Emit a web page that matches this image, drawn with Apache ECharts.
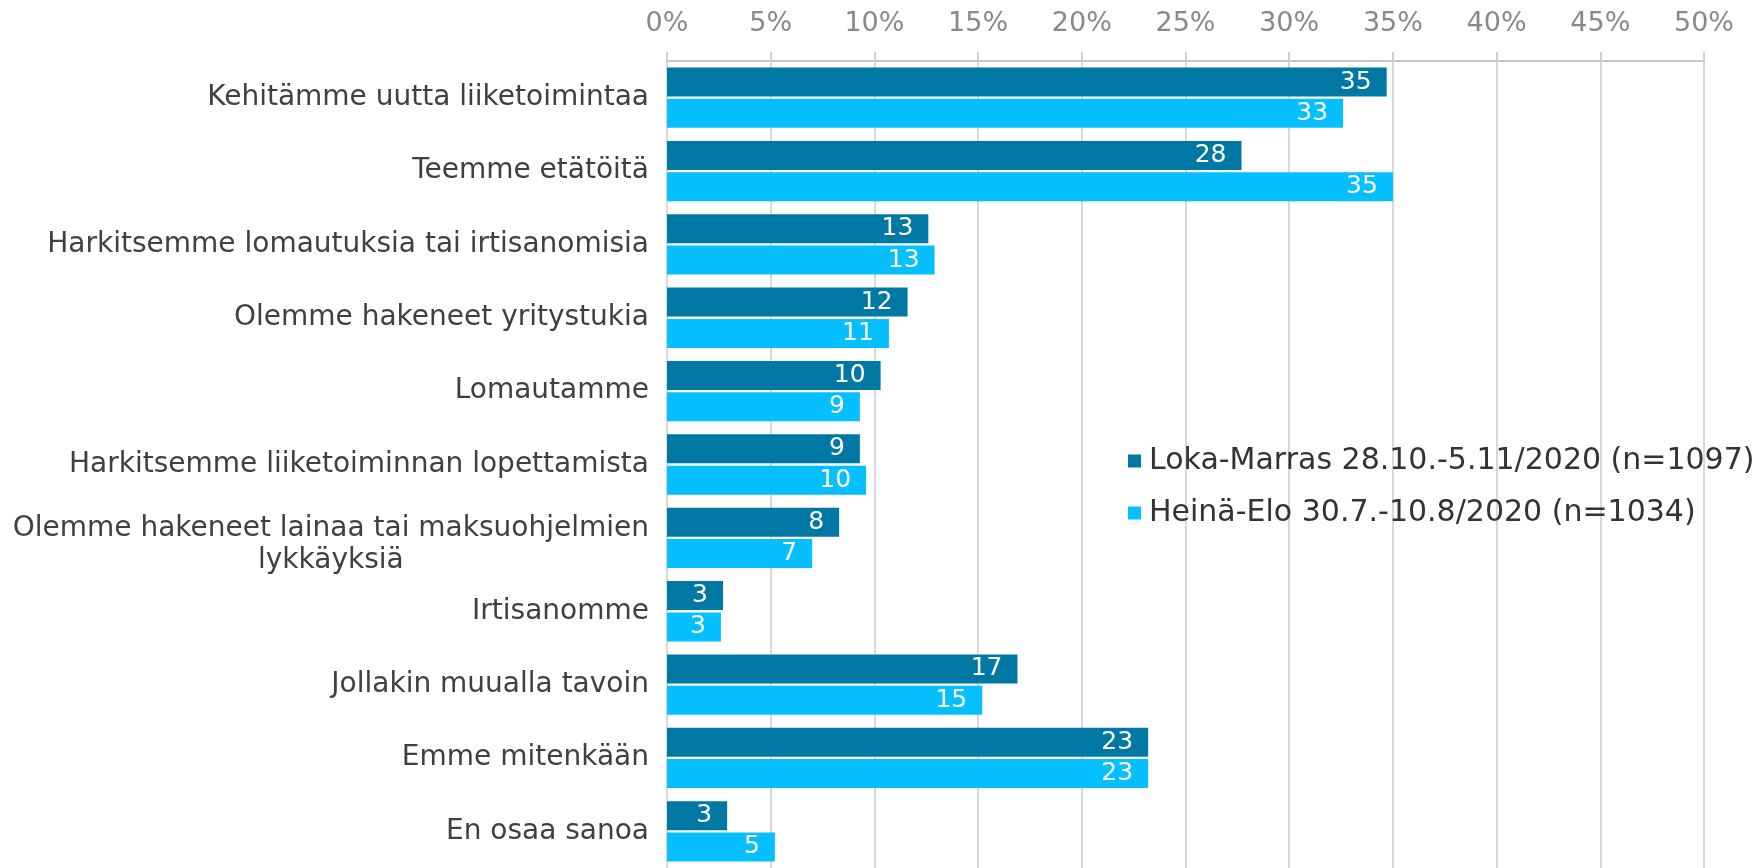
<!DOCTYPE html>
<html>
<head>
<meta charset="utf-8">
<script src="https://cdn.jsdelivr.net/npm/echarts@6/dist/echarts.min.js"></script>
<style>
html,body{margin:0;padding:0;background:#fff;}
#chart{width:1764px;height:868px;}
</style>
</head>
<body>
<div id="chart"></div>
<script>
var categories = [
  'Kehitämme uutta liiketoimintaa',
  'Teemme etätöitä',
  'Harkitsemme lomautuksia tai irtisanomisia',
  'Olemme hakeneet yritystukia',
  'Lomautamme',
  'Harkitsemme liiketoiminnan lopettamista',
  'Olemme hakeneet lainaa tai maksuohjelmien\nlykkäyksiä',
  'Irtisanomme',
  'Jollakin muualla tavoin',
  'Emme mitenkään',
  'En osaa sanoa'
];
var seriesNames = [
  'Loka-Marras 28.10.-5.11/2020 (n=1097)',
  'Heinä-Elo 30.7.-10.8/2020 (n=1034)'
];
var lokaMarras = [34.7, 27.7, 12.6, 11.6, 10.3, 9.3, 8.3, 2.7, 16.9, 23.2, 2.9];
var heinaElo   = [32.6, 35.0, 12.9, 10.7, 9.3, 9.6, 7.0, 2.6, 15.2, 23.2, 5.2];
var xTicks = { min: 0, max: 50, interval: 5 };

var FONT = 'DejaVu Sans';
var chart = echarts.init(document.getElementById('chart'), null, {renderer: 'canvas'});

function yLabel(v) {
  var parts = v.split('\n');
  if (parts.length === 1) return v;
  return '{l1|' + parts[0] + '}\n{l2|' + parts[1] + '}';
}

var labelCfg = {
  show: true,
  position: 'insideRight',
  distance: 15,
  color: '#ffffff',
  fontFamily: FONT,
  fontSize: 25,
  formatter: function (p) { return Math.round(p.value); }
};

chart.setOption({
  animation: false,
  backgroundColor: '#ffffff',
  textStyle: { fontFamily: FONT },
  grid: { left: 667, right: 60, top: 61, bottom: -6, containLabel: false },
  legend: {
    orient: 'vertical',
    left: 1128,
    top: 445,
    padding: 0,
    itemWidth: 13,
    itemHeight: 13,
    itemGap: 20,
    icon: 'rect',
    data: seriesNames,
    textStyle: { fontFamily: FONT, fontSize: 30, color: '#333333', lineHeight: 32, padding: [0, 0, 0, 3] }
  },
  xAxis: {
    type: 'value',
    position: 'top',
    min: xTicks.min,
    max: xTicks.max,
    interval: xTicks.interval,
    axisLine: { show: true, lineStyle: { color: '#c8c8c8', width: 2 } },
    axisTick: { show: true, inside: false, length: 9, lineStyle: { color: '#d0d0d0', width: 2 } },
    splitLine: { show: true, lineStyle: { color: '#d9d9d9', width: 2 } },
    axisLabel: {
      formatter: '{value}%',
      color: '#898989',
      fontFamily: FONT,
      fontSize: 27,
      margin: 24
    }
  },
  yAxis: {
    type: 'category',
    inverse: true,
    data: categories,
    axisLine: { show: false },
    axisTick: { show: false },
    splitLine: { show: false },
    axisLabel: {
      margin: 18,
      color: '#404040',
      fontFamily: FONT,
      fontSize: 28,
      formatter: yLabel,
      rich: {
        l1: { fontFamily: FONT, fontSize: 28, color: '#404040', lineHeight: 46, align: 'right' },
        l2: { fontFamily: FONT, fontSize: 28, color: '#404040', lineHeight: 18, align: 'center' }
      }
    }
  },
  series: [
    {
      name: seriesNames[0],
      type: 'bar',
      data: lokaMarras,
      barWidth: 29,
      barGap: '8%',
      itemStyle: { color: '#0078a4' },
      label: labelCfg
    },
    {
      name: seriesNames[1],
      type: 'bar',
      data: heinaElo,
      barWidth: 29,
      barGap: '8%',
      itemStyle: { color: '#06bfff' },
      label: labelCfg
    }
  ]
});
</script>
</body>
</html>
